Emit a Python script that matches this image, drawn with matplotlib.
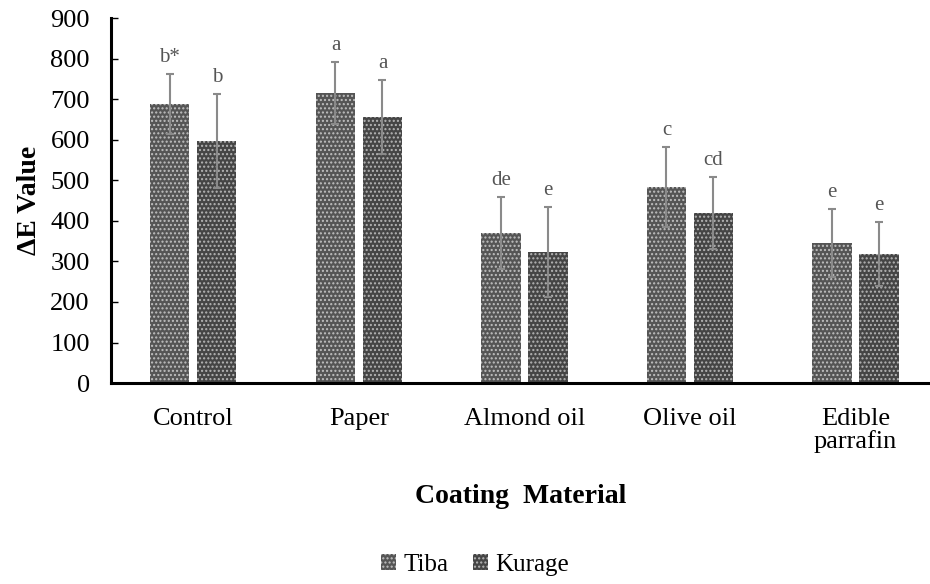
import matplotlib.pyplot as plt
import numpy as np

plt.rcParams['font.family'] = ['Liberation Serif', 'DejaVu Serif']
plt.rcParams['hatch.linewidth'] = 1.0

categories = ['Control', 'Paper', 'Almond oil', 'Olive oil', 'Edible\nparrafin']
tiba = [688, 715, 370, 483, 345]
tiba_err = [74, 76, 89, 99, 84]
kurage = [597, 656, 323, 419, 318]
kurage_err = [115, 91, 111, 89, 79]
tiba_letters = ['b*', 'a', 'de', 'c', 'e']
kurage_letters = ['b', 'a', 'e', 'cd', 'e']

fig = plt.figure(figsize=(9.3, 5.84), dpi=100)
ax = fig.add_axes([0.119, 0.344, 0.881, 0.625])

x = np.arange(len(categories))
w = 0.236
off = 0.142

b1 = ax.bar(x - off, tiba, w, color='#555555', edgecolor='#c0c0c0', linewidth=0,
            hatch='....', label='Tiba', zorder=2)
b2 = ax.bar(x + off, kurage, w, color='#454545', edgecolor='#b5b5b5', linewidth=0,
            hatch='....', label='Kurage', zorder=2)

ax.errorbar(x - off, tiba, yerr=tiba_err, fmt='none', ecolor='#8a8a8a',
            elinewidth=1.5, capsize=3, capthick=1.5, zorder=3)
ax.errorbar(x + off, kurage, yerr=kurage_err, fmt='none', ecolor='#8a8a8a',
            elinewidth=1.5, capsize=3, capthick=1.5, zorder=3)

for xi, v, e, t in zip(x - off, tiba, tiba_err, tiba_letters):
    ax.annotate(t, (xi, v + e), xytext=(0, 5), textcoords='offset points',
                ha='center', va='bottom', fontsize=15, color='#555555')
for xi, v, e, t in zip(x + off, kurage, kurage_err, kurage_letters):
    ax.annotate(t, (xi, v + e), xytext=(0, 5), textcoords='offset points',
                ha='center', va='bottom', fontsize=15, color='#555555')

ax.set_xlim(-0.5, 4.45)
ax.set_ylim(0, 900)
ax.set_yticks(np.arange(0, 901, 100))
ax.set_xticks(x)
ax.set_xticklabels(categories, fontsize=19, linespacing=1.0)
ax.tick_params(axis='y', direction='in', length=5, width=1, labelsize=19, pad=15)
ax.tick_params(axis='x', length=0, pad=18, labelsize=19)

for s in ['top', 'right']:
    ax.spines[s].set_visible(False)
ax.spines['left'].set_linewidth(2.2)
ax.spines['bottom'].set_linewidth(2.2)

ax.set_ylabel('ΔE Value', fontsize=20, fontweight='bold', labelpad=6)
ax.set_xlabel('Coating  Material', fontsize=20, fontweight='bold', labelpad=22)

fig.legend(handles=[b1, b2], labels=['Tiba', 'Kurage'], loc='center',
           bbox_to_anchor=(475 / 930, 1 - 565 / 584), ncol=2, frameon=False,
           fontsize=18, handlelength=0.6, handleheight=0.6, handletextpad=0.3,
           columnspacing=1.0)

fig.savefig('out.png', dpi=100)
